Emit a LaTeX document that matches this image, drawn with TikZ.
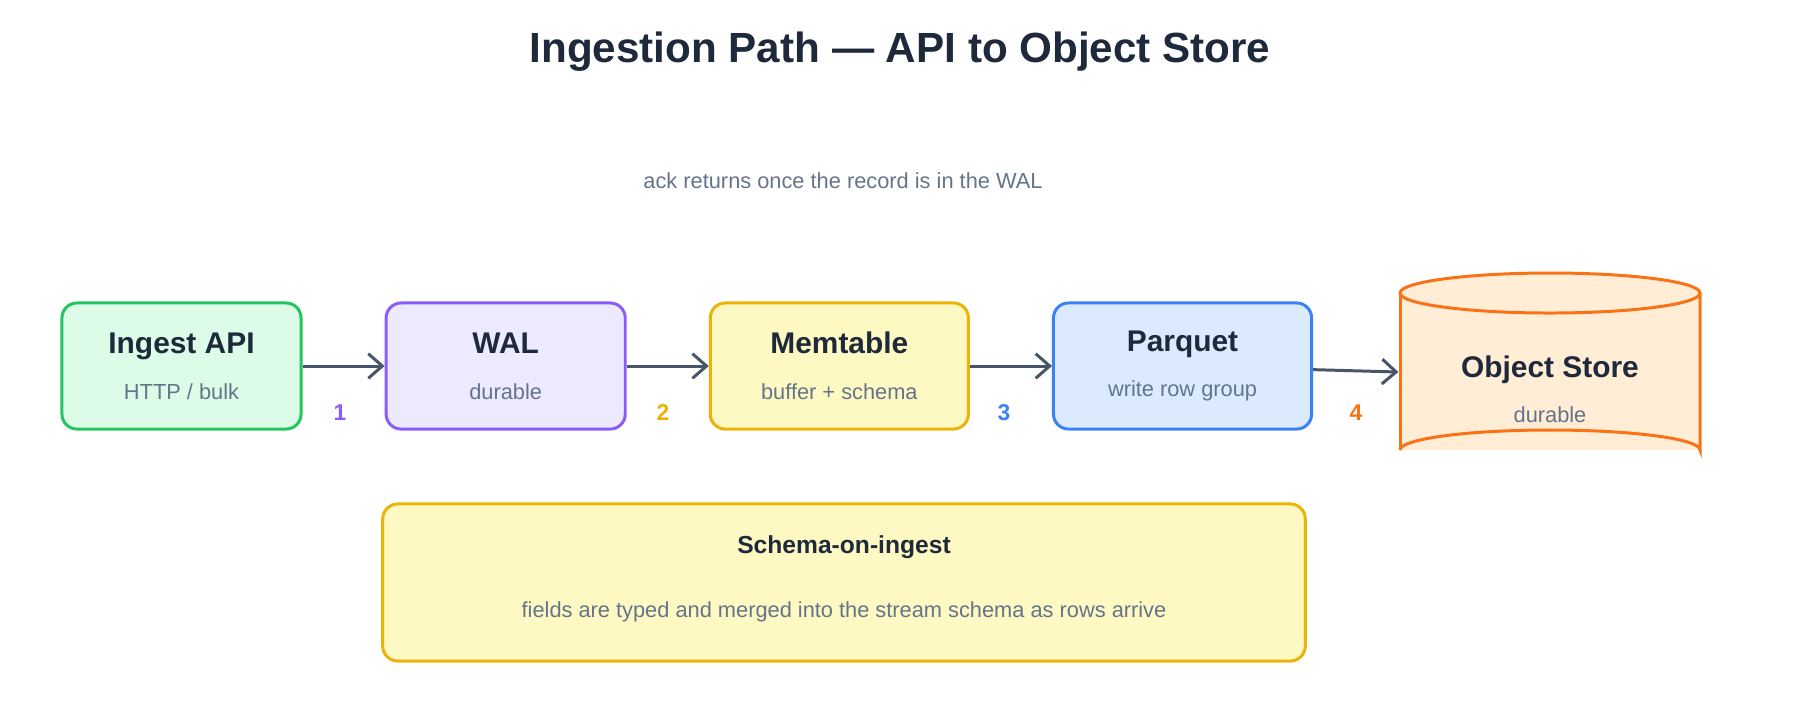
\documentclass[tikz,border=0pt]{standalone}
\usepackage{fontspec}
\setmainfont{Liberation Sans}
\usetikzlibrary{arrows.meta,positioning}

\definecolor{ink}{HTML}{1E293B}
\definecolor{muted}{HTML}{64748B}
\definecolor{wire}{HTML}{475569}
\definecolor{grnline}{HTML}{22C55E}\definecolor{grnfill}{HTML}{DCFCE7}
\definecolor{purline}{HTML}{8B5CF6}\definecolor{purfill}{HTML}{EDE9FE}
\definecolor{yelline}{HTML}{EAB308}\definecolor{yelfill}{HTML}{FEF9C3}
\definecolor{bluline}{HTML}{3B82F6}\definecolor{blufill}{HTML}{DBEAFE}
\definecolor{orgline}{HTML}{F97316}\definecolor{orgfill}{HTML}{FFEDD5}

\begin{document}
\begin{tikzpicture}
    [x=0.01cm,y=-0.01cm,node distance=0.82cm,
        stage/.style={rectangle,rounded corners=0.15cm,line width=0.85pt,minimum height=1.26cm,align=center,font=\fontsize{8.5pt}{14pt}\selectfont\bfseries\color{ink}},
        sub/.style={font=\fontsize{6.2pt}{8pt}\selectfont\mdseries\color{muted}},
        flow/.style={-{Straight Barb[length=4pt,width=7pt]},line width=0.85pt,draw=wire},
        stepno/.style={font=\fontsize{6.5pt}{8pt}\selectfont\bfseries}]
    \useasboundingbox (0,0) rectangle (1800,720);

    \node[font=\fontsize{12pt}{14pt}\selectfont\bfseries,text=ink] (title) at (900,52) {Ingestion Path — API to Object Store};
    \node[sub] (ack) at (843,181) {ack returns once the record is in the WAL};

    \node[stage,draw=grnline,fill=grnfill,minimum width=2.39cm] (api) at (181.5,366) {Ingest API\\[-1pt]\textcolor{muted}{\fontsize{6.2pt}{8pt}\selectfont\mdseries HTTP / bulk}};
    \node[stage,draw=purline,fill=purfill,minimum width=2.39cm] (wal) [right=of api] {WAL\\[-1pt]\textcolor{muted}{\fontsize{6.2pt}{8pt}\selectfont\mdseries durable}};
    \node[stage,draw=yelline,fill=yelfill,minimum width=2.58cm] (mem) [right=of wal] {Memtable\\[-1pt]\textcolor{muted}{\fontsize{6.2pt}{8pt}\selectfont\mdseries buffer + schema}};
    \node[stage,draw=bluline,fill=blufill,minimum width=2.58cm] (parq) [right=of mem] {Parquet\\[-1pt]\textcolor{muted}{\fontsize{6.2pt}{8pt}\selectfont\mdseries write row group}};

    % cylinder for the object store
    \fill[orgfill] (1400,293) rectangle (1700,450);
    \draw[orgline,line width=0.85pt,fill=orgfill] (1400,450) arc[start angle=180,end angle=360,x radius=150,y radius=20] -- (1700,293);
    \draw[orgline,line width=0.85pt] (1400,450) -- (1400,293);
    \draw[orgline,line width=0.85pt,fill=orgfill] (1550,293) ellipse[x radius=150,y radius=20];
    \node[stage,minimum width=3cm,minimum height=1.4cm] (store) at (1550,372) {\\[2pt]Object Store\\[-1pt]\textcolor{muted}{\fontsize{6.2pt}{8pt}\selectfont\mdseries durable}};

    \draw[flow] (api) -- (wal);
    \draw[flow] (wal) -- (mem);
    \draw[flow] (mem) -- (parq);
    \draw[flow] (parq) -- (store.west);

    \node[stepno,text=purline] (n1) at (340,413) {1};
    \node[stepno,text=yelline] (n2) at (663,413) {2};
    \node[stepno,text=bluline] (n3) at (1004,413) {3};
    \node[stepno,text=orgline] (n4) at (1356,413) {4};

    \node[stage,draw=yelline,fill=yelfill,minimum width=9.22cm,minimum height=1.57cm] (schema) at (844,582.5) {};
    \node[font=\fontsize{7pt}{8pt}\selectfont\bfseries,text=ink] (schemahead) at (844,547) {Schema-on-ingest};
    \node[sub] (schematext) at (844,612) {fields are typed and merged into the stream schema as rows arrive};
\end{tikzpicture}
\end{document}
